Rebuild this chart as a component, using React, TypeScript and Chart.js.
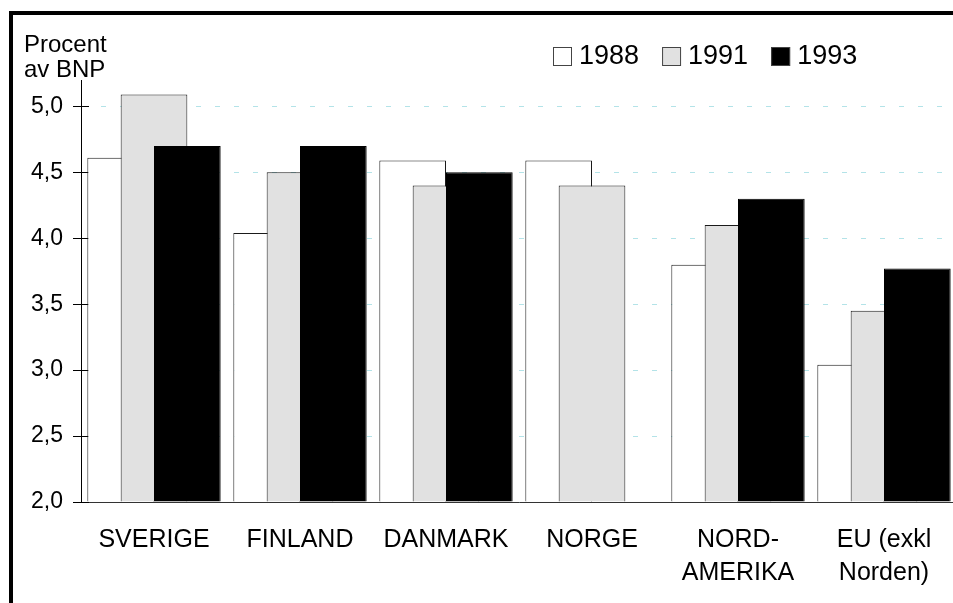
import React, { useEffect, useRef } from 'react';
import { Chart, registerables } from 'chart.js';

Chart.register(...registerables);

// ---- data ----
const categories: (string | string[])[] = [
  'SVERIGE',
  'FINLAND',
  'DANMARK',
  'NORGE',
  ['NORD-', 'AMERIKA'],
  ['EU (exkl', 'Norden)'],
];
const seriesNames = ['1988', '1991', '1993'];
const values1988 = [4.61, 4.04, 4.59, 4.59, 3.8, 3.04];
const values1991 = [5.09, 4.5, 4.4, 4.4, 4.1, 3.45];
const values1993 = [4.7, 4.7, 4.5, null, 4.3, 3.77];
const yTicks = [2.0, 2.5, 3.0, 3.5, 4.0, 4.5, 5.0];
const yMin = 2.0;
const yMax = 5.2;
const yAxisTitle = ['Procent', 'av BNP'];

const FONT = '"Liberation Sans", Arial, Helvetica, sans-serif';
const fills = ['#ffffff', '#e1e1e1', '#000000'];
const borders = ['#1a1a1a', '#1a1a1a', '#000000'];

// draw datasets so that later series lie on top of earlier ones
const drawOrderPlugin = {
  id: 'drawOrder',
  beforeDatasetDraw() {
    return false;
  },
  afterDatasetsDraw(chart: any) {
    const ctx = chart.ctx;
    const a = chart.chartArea;
    ctx.save();
    ctx.beginPath();
    ctx.rect(a.left, a.top - 5, a.right - a.left, a.bottom - a.top + 5);
    ctx.clip();
    for (let i = 0; i < chart.data.datasets.length; i++) {
      const meta = chart.getDatasetMeta(i);
      if (meta.visible !== false) meta.controller.draw();
    }
    ctx.restore();
  },
};

const decorPlugin = {
  id: 'decor',
  beforeDatasetsDraw(chart: any) {
    const ctx = chart.ctx;
    const ys = chart.scales.y;
    const left = chart.chartArea.left;
    ctx.save();
    ctx.strokeStyle = '#000';
    ctx.lineWidth = 1;
    yTicks.forEach((v) => {
      const py = Math.round(ys.getPixelForValue(v)) + 0.5;
      ctx.beginPath();
      ctx.moveTo(left, py);
      ctx.lineTo(left + 8, py);
      ctx.stroke();
    });
    ctx.restore();
  },
  afterDraw(chart: any) {
    const ctx = chart.ctx;
    ctx.save();
    // frame
    ctx.fillStyle = '#000';
    ctx.fillRect(9, 11, 4, 700);
    ctx.fillRect(9, 11, 1000, 4);
    // axis title
    ctx.font = `24px ${FONT}`;
    ctx.textAlign = 'left';
    ctx.textBaseline = 'alphabetic';
    ctx.fillStyle = '#000';
    ctx.fillText(yAxisTitle[0], 24, 52);
    ctx.fillText(yAxisTitle[1], 24, 77);
    // legend
    ctx.font = `27px ${FONT}`;
    let x = 553;
    seriesNames.forEach((name, i) => {
      const ds = chart.data.datasets[i];
      ctx.fillStyle = ds.backgroundColor;
      ctx.fillRect(x, 47, 19, 19);
      ctx.strokeStyle = '#444';
      ctx.lineWidth = 1;
      ctx.strokeRect(x + 0.5, 47.5, 18, 18);
      ctx.fillStyle = '#000';
      ctx.fillText(name, x + 26, 64);
      x += 26 + ctx.measureText(name).width + 23;
    });
    ctx.restore();
  },
};

export default function App() {
  const ref = useRef<HTMLCanvasElement | null>(null);

  useEffect(() => {
    if (!ref.current) return;
    const seriesValues = [values1988, values1991, values1993];
    const chart = new Chart(ref.current, {
      type: 'bar',
      data: {
        labels: categories as any,
        datasets: seriesNames.map((name, i) => ({
          label: name,
          data: seriesValues[i] as any,
          backgroundColor: fills[i],
          borderColor: borders[i],
          borderWidth: 1,
          base: yMin,
          categoryPercentage: 0.685,
          barPercentage: 2.0,
        })),
      },
      options: {
        responsive: false,
        animation: false,
        devicePixelRatio: 1,
        layout: { padding: { top: 80, left: 0, right: 0, bottom: 0 } },
        plugins: {
          legend: { display: false },
          title: { display: false },
          tooltip: { enabled: false },
        },
        scales: {
          x: {
            offset: true,
            grid: { display: false, drawTicks: false },
            border: { display: true, color: '#333', width: 1 },
            ticks: {
              color: '#000',
              font: { family: FONT, size: 25, lineHeight: 1.3 },
              padding: 22,
              maxRotation: 0,
              autoSkip: false,
            },
            afterFit: (scale: any) => {
              scale.height = 101;
            },
          },
          y: {
            min: yMin,
            max: yMax,
            afterBuildTicks: (scale: any) => {
              scale.ticks = yTicks.map((v) => ({ value: v }));
            },
            afterFit: (scale: any) => {
              scale.width = 81;
            },
            grid: {
              color: '#b3e3e8',
              lineWidth: 1,
              drawTicks: true,
              tickLength: 8,
              tickColor: '#000',
              tickWidth: 1,
              tickBorderDash: [],
            },
            border: { display: true, color: '#000', width: 1, dash: [5, 14] },
            ticks: {
              color: '#000',
              font: { family: FONT, size: 23 },
              padding: 10,
              callback: (v: any) => Number(v).toFixed(1).replace('.', ','),
            },
          },
        },
      },
      plugins: [drawOrderPlugin, decorPlugin],
    });
    return () => chart.destroy();
  }, []);

  return (
    <div
      style={{
        position: 'fixed',
        left: 0,
        top: 0,
        width: 953,
        height: 603,
        overflow: 'hidden',
        background: '#fff',
      }}
    >
      <canvas ref={ref} width={957} height={603} style={{ display: 'block' }} />
    </div>
  );
}
